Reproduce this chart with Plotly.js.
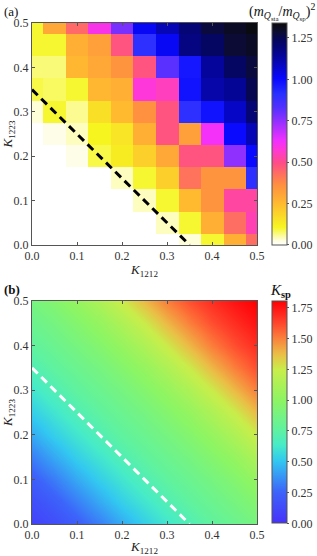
<!DOCTYPE html>
<html>
<head>
<meta charset="utf-8">
<script src="https://cdn.plot.ly/plotly-3.0.1.min.js"></script>
<style>html,body{margin:0;padding:0;background:#fff;}#chart{width:317px;height:556px;}</style>
</head>
<body>
<div id="chart"></div>
<script>
// Grid coordinates (K1212 on x, K1223 on y)
var kx = [0, 0.05, 0.1, 0.15, 0.2, 0.25, 0.3, 0.35, 0.4, 0.45, 0.5];
var ky = [0, 0.05, 0.1, 0.15, 0.2, 0.25, 0.3, 0.35, 0.4, 0.45, 0.5];

// (a) (m_Qsta / m_Qsp)^2 ; rows = K1223 from 0.0 to 0.5
var massRatio = [
  [0, 0, 0, 0, 0, 0, 0, 0.03, 0.10, 0.28, 0.43],
  [0, 0, 0, 0, 0, 0, 0.04, 0.10, 0.28, 0.43, 0.54],
  [0, 0, 0, 0, 0, 0.04, 0.10, 0.25, 0.35, 0.52, 0.52],
  [0, 0, 0, 0, 0.04, 0.10, 0.20, 0.42, 0.35, 0.35, 0.90],
  [0, 0, 0.02, 0.09, 0.13, 0.20, 0.30, 0.48, 0.48, 0.75, 1.00],
  [0, 0.02, 0.04, 0.11, 0.15, 0.28, 0.48, 0.32, 0.62, 1.00, 1.10],
  [0.03, 0.10, 0.06, 0.16, 0.25, 0.36, 0.48, 0.90, 0.98, 1.08, 1.20],
  [0.09, 0.08, 0.10, 0.26, 0.28, 0.58, 0.55, 0.98, 1.12, 1.15, 1.25],
  [0.07, 0.07, 0.26, 0.30, 0.35, 0.48, 0.82, 0.97, 1.14, 1.23, 1.27],
  [0.10, 0.10, 0.28, 0.32, 0.48, 0.90, 1.02, 1.18, 1.23, 1.28, 1.30],
  [0.10, 0.30, 0.44, 0.60, 0.78, 1.02, 1.10, 1.20, 1.27, 1.30, 1.33]
];

// (b) K_sp ; rows = K1223 from 0.0 to 0.5
var kSp = [
  [0.08, 0.14, 0.22, 0.32, 0.43, 0.53, 0.61, 0.69, 0.76, 0.82, 0.88],
  [0.14, 0.22, 0.32, 0.43, 0.53, 0.61, 0.69, 0.76, 0.82, 0.88, 0.95],
  [0.22, 0.32, 0.43, 0.53, 0.61, 0.69, 0.76, 0.82, 0.88, 0.95, 1.03],
  [0.32, 0.43, 0.53, 0.61, 0.69, 0.76, 0.82, 0.88, 0.95, 1.03, 1.13],
  [0.43, 0.53, 0.61, 0.69, 0.76, 0.82, 0.88, 0.95, 1.03, 1.13, 1.25],
  [0.53, 0.61, 0.69, 0.76, 0.82, 0.88, 0.95, 1.03, 1.13, 1.25, 1.38],
  [0.61, 0.69, 0.76, 0.82, 0.88, 0.95, 1.03, 1.13, 1.25, 1.38, 1.50],
  [0.69, 0.76, 0.82, 0.88, 0.95, 1.03, 1.13, 1.25, 1.38, 1.50, 1.60],
  [0.76, 0.82, 0.88, 0.95, 1.03, 1.13, 1.25, 1.38, 1.50, 1.60, 1.68],
  [0.82, 0.88, 0.95, 1.03, 1.13, 1.25, 1.38, 1.50, 1.60, 1.68, 1.75],
  [0.88, 0.95, 1.03, 1.13, 1.25, 1.38, 1.50, 1.60, 1.68, 1.75, 1.80]
];

// dashed boundary line
var lineX = [0, 0.35];
var lineY = [0.35, 0];

var axisTicks = [0, 0.1, 0.2, 0.3, 0.4, 0.5];
var axisTickText = ['0.0', '0.1', '0.2', '0.3', '0.4', '0.5'];
var cbTicksA = [0, 0.25, 0.5, 0.75, 1.0, 1.25];
var cbTicksB = [0, 0.25, 0.5, 0.75, 1.0, 1.25, 1.5, 1.75];

var SERIF = 'Liberation Serif, DejaVu Serif, serif';

var scaleA = [
  [0, '#ffffff'], [0.02, '#fefee0'], [0.08, '#f6f620'], [0.19, '#ffb830'],
  [0.27, '#ff9040'], [0.33, '#ff6868'], [0.37, '#ff4c88'], [0.43, '#ff38d8'],
  [0.47, '#f030ff'], [0.56, '#9030ff'], [0.62, '#5030ff'], [0.68, '#2830ff'],
  [0.75, '#0808ff'], [0.82, '#0606b8'], [0.87, '#05058a'], [0.92, '#050560'],
  [0.96, '#0c0c30'], [1, '#0a0a0a']
];
var scaleB = [
  [0, 'rgb(70,50,250)'], [0.14, 'rgb(60,100,250)'], [0.28, 'rgb(50,200,240)'],
  [0.35, 'rgb(70,235,200)'], [0.42, 'rgb(95,242,160)'], [0.55, 'rgb(140,245,100)'],
  [0.69, 'rgb(200,238,75)'], [0.76, 'rgb(235,190,70)'], [0.83, 'rgb(250,130,60)'],
  [0.9, 'rgb(255,70,45)'], [0.97, 'rgb(255,20,20)'], [1, 'rgb(255,0,0)']
];

function cb(yc, ticks) {
  return {
    x: 272 / 317, xanchor: 'left', y: yc, yanchor: 'middle',
    thickness: 15, thicknessmode: 'pixels',
    len: 222 / 556, lenmode: 'fraction',
    outlinewidth: 1, outlinecolor: '#555',
    tickvals: ticks, tickformat: '.2f',
    ticks: 'outside', ticklen: 2, tickcolor: '#555',
    tickfont: {family: SERIF, size: 12, color: '#333'},
    xpad: 0, ypad: 0
  };
}

var traces = [
  {type: 'heatmap', x: kx, y: ky, z: massRatio, colorscale: scaleA, zmin: 0, zmax: 1.34,
   xaxis: 'x', yaxis: 'y', colorbar: cb((0.9586 + 0.5594) / 2, cbTicksA), hoverinfo: 'skip'},
  {type: 'scatter', mode: 'lines', x: lineX, y: lineY, xaxis: 'x', yaxis: 'y',
   line: {color: '#000', width: 3, dash: '8px,5px'}, showlegend: false, hoverinfo: 'skip'},
  {type: 'heatmap', x: kx, y: ky, z: kSp, colorscale: scaleB, zmin: 0, zmax: 1.8, zsmooth: 'best',
   xaxis: 'x2', yaxis: 'y2', colorbar: cb((0.4586 + 0.0576) / 2, cbTicksB), hoverinfo: 'skip'},
  {type: 'scatter', mode: 'lines', x: lineX, y: lineY, xaxis: 'x2', yaxis: 'y2',
   line: {color: '#fff', width: 3, dash: '8px,5px'}, showlegend: false, hoverinfo: 'skip'}
];

function ax(domain, anchor, titleText) {
  return {
    domain: domain, anchor: anchor, range: [0, 0.5],
    tickvals: axisTicks, ticktext: axisTickText,
    ticks: 'inside', ticklen: 3, tickcolor: '#555',
    showline: true, linecolor: '#555', linewidth: 1, mirror: 'ticks',
    showgrid: false, zeroline: false,
    tickfont: {family: SERIF, size: 12, color: '#333'},
    title: {text: titleText, font: {family: SERIF, size: 13, color: '#222'}, standoff: 2}
  };
}

var xd = [32 / 317, 257 / 317];
var layout = {
  width: 317, height: 556, autosize: false,
  margin: {l: 0, r: 0, t: 0, b: 0},
  paper_bgcolor: '#fff', plot_bgcolor: '#fff',
  showlegend: false,
  xaxis: ax(xd, 'y', '<i>K</i><sub>1212</sub>'),
  yaxis: ax([0.5594, 0.9586], 'x', '<i>K</i><sub>1223</sub>'),
  xaxis2: ax(xd, 'y2', '<i>K</i><sub>1212</sub>'),
  yaxis2: ax([0.0576, 0.4586], 'x2', '<i>K</i><sub>1223</sub>'),
  annotations: [
    {text: '(a)', x: 2 / 317, y: 1 - 12 / 556, xref: 'paper', yref: 'paper', xanchor: 'left', yanchor: 'middle',
     showarrow: false, font: {family: SERIF, size: 13, color: '#111'}},
    {text: '<b>(b)</b>', x: 2 / 317, y: 1 - 289 / 556, xref: 'paper', yref: 'paper', xanchor: 'left', yanchor: 'middle',
     showarrow: false, font: {family: SERIF, size: 13, color: '#111'}},
    {text: '(<i>m</i><sub><i>Q</i><sub>sta</sub></sub>/<i>m</i><sub><i>Q</i><sub>sp</sub></sub>)<sup>2</sup>',
     x: 1, y: 1 - 12 / 556, xref: 'paper', yref: 'paper', xanchor: 'right', yanchor: 'middle',
     showarrow: false, font: {family: SERIF, size: 14, color: '#111'}},
    {text: '<i>K</i><sub><b>sp</b></sub>', x: 268 / 317, y: 1 - 291 / 556, xref: 'paper', yref: 'paper',
     xanchor: 'left', yanchor: 'middle', showarrow: false, font: {family: SERIF, size: 15, color: '#111'}}
  ]
};

Plotly.newPlot('chart', traces, layout, {staticPlot: true, displayModeBar: false});
</script>
</body>
</html>
